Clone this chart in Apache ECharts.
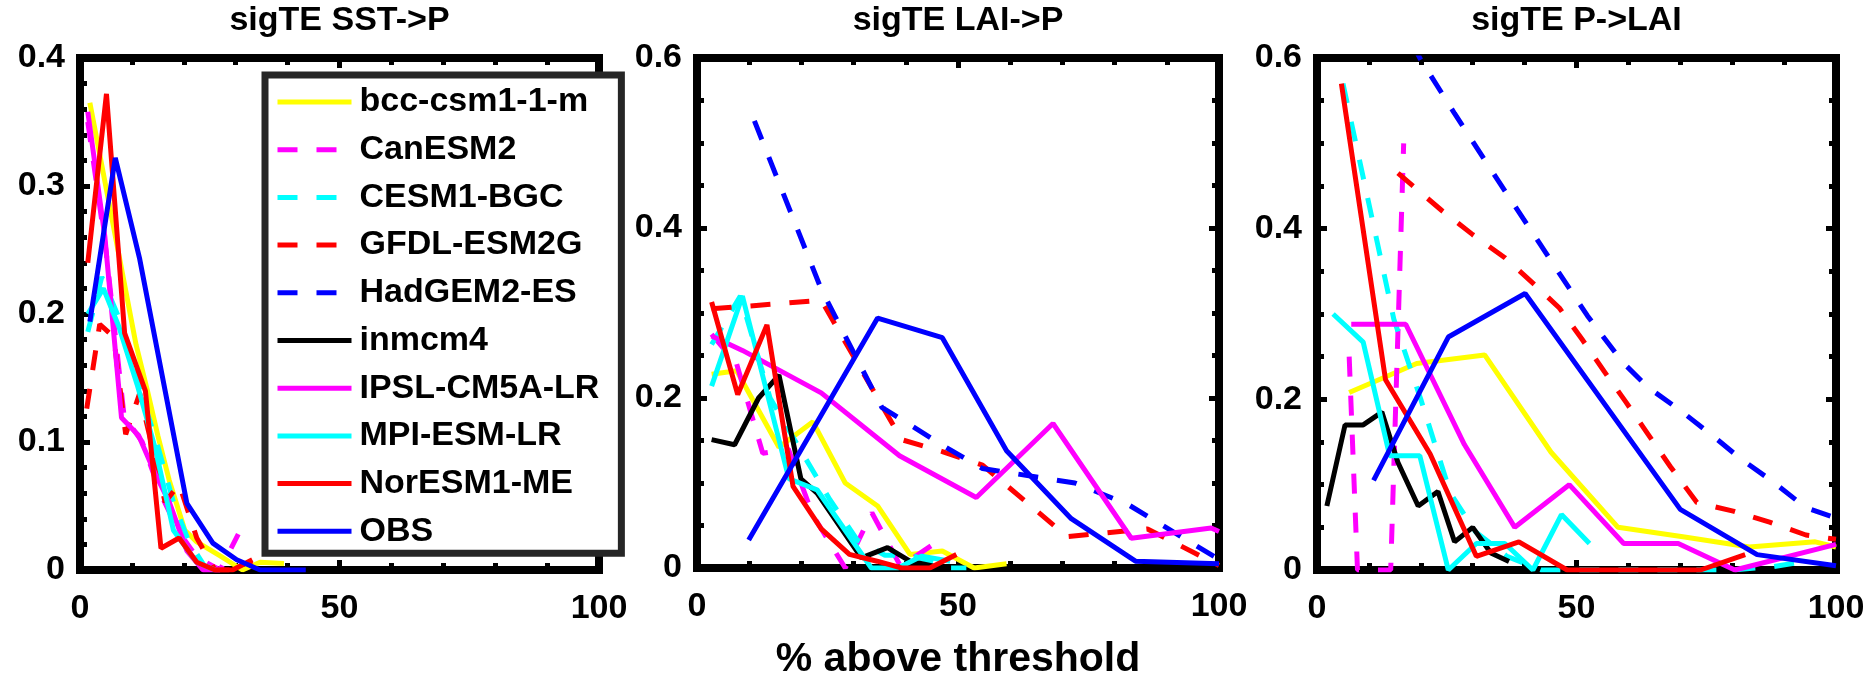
<!DOCTYPE html>
<html>
<head>
<meta charset="utf-8">
<script src="https://cdn.jsdelivr.net/npm/echarts@6/dist/echarts.min.js"></script>
<style>
html,body{margin:0;padding:0;background:#fff;}
#chart{width:1874px;height:685px;}
</style>
</head>
<body>
<div id="chart"></div>
<script>
// ---------- DATA ----------
const models = ['bcc-csm1-1-m','CanESM2','CESM1-BGC','GFDL-ESM2G','HadGEM2-ES','inmcm4','IPSL-CM5A-LR','MPI-ESM-LR','NorESM1-ME','OBS'];
const panelTitles = ['sigTE SST->P','sigTE LAI->P','sigTE P->LAI'];
const xAxisName = '% above threshold';
const xTicks = [0, 50, 100];
const yTicksSST = [0, 0.1, 0.2, 0.3, 0.4];
const yTicksLAI = [0, 0.2, 0.4, 0.6];

// Panel 1: sigTE SST->P  ([% above threshold, value])
const sstP_bcc  = [[1.9,0.365],[10.8,0.176],[13,0.14],[15,0.105],[17.2,0.07],[20.2,0.031],[22.5,0.022],[27,0.011],[31.3,0],[34.7,0.006],[39.3,0.005]];
const sstP_can  = [[1.5,0.35],[5,0.25],[8.5,0.12],[12,0.1],[15.5,0.06],[19,0.03],[22.5,0.01],[27,0],[30.5,0.028]];
const sstP_cesm = [[1.5,0.186],[4.2,0.229],[7.3,0.199],[11,0.148],[14.9,0.098],[18,0.053],[21,0.022],[24,0.003],[27,0]];
const sstP_gfdl = [[1.3,0.126],[3.8,0.192],[6.5,0.182],[8.8,0.106],[11.5,0.138],[16.4,0.053],[19.1,0.067],[22.5,0.025],[26,0],[29.5,0],[33.2,0.007]];
const sstP_had  = [];
const sstP_inm  = [];
const sstP_ipsl = [[1.5,0.358],[4.8,0.26],[8,0.119],[11.3,0.105],[14.5,0.075],[17.2,0.053],[20.6,0.015],[23.7,0],[27,0]];
const sstP_mpi  = [[1.5,0.2],[4.5,0.22],[7.5,0.19],[11,0.145],[14.5,0.095],[18,0.031],[22.5,0.006],[26,0]];
const sstP_nor  = [[1.5,0.24],[5.1,0.372],[8.6,0.185],[12.6,0.14],[15.6,0.017],[19.1,0.025],[22.5,0.006],[26,0],[29.4,0],[33.2,0.008]];
const sstP_obs  = [[1.9,0.194],[6.8,0.322],[11.5,0.243],[20.6,0.052],[25.6,0.021],[30.2,0.008],[34.7,0],[43.5,0]];

// Panel 2: sigTE LAI->P
const laiP_bcc  = [[2.8,0.228],[7.6,0.232],[15.7,0.142],[22.2,0.172],[28.4,0.1],[34.6,0.073],[40.8,0.016],[47,0.02],[53.1,0],[59.3,0.005]];
const laiP_can  = [[2.8,0.275],[7.6,0.24],[12.6,0.135],[17.5,0.14],[22.2,0.062],[28.4,0],[33.5,0.065],[39,0.002],[47,0.035]];
const laiP_cesm = [[2.8,0.263],[8.3,0.32],[14,0.2],[20.3,0.134],[25.5,0.08],[30.7,0.033],[36,0.015],[41,0.015],[48.5,0],[51.6,0]];
const laiP_gfdl = [[2.8,0.305],[7.5,0.307],[23.8,0.315],[39.2,0.151],[47,0.137],[54.7,0.121],[70.9,0.037],[86.3,0.046],[100,0.003]];
const laiP_had  = [[11,0.526],[23.8,0.328],[35.4,0.189],[47.7,0.142],[54.7,0.117],[72.4,0.1],[82.5,0.075],[100,0.01]];
const laiP_inm  = [[2.8,0.151],[7.2,0.145],[11.8,0.2],[15.7,0.227],[19.9,0.105],[23,0.088],[31.5,0.012],[36.5,0.024],[40.8,0.008],[47,0]];
const laiP_ipsl = [[2.8,0.273],[8.7,0.256],[23.8,0.206],[38.8,0.132],[53.5,0.083],[68.2,0.17],[83.2,0.035],[98.5,0.047],[100,0.043]];
const laiP_mpi  = [[2.8,0.214],[8.7,0.32],[17.6,0.105],[23,0.092],[33.4,0],[38.5,0],[43.1,0.014],[48.5,0.008]];
const laiP_nor  = [[2.8,0.313],[7.8,0.204],[13.4,0.286],[18.4,0.096],[23.8,0.046],[29.2,0.016],[34.5,0.008],[39.2,0],[44.6,0],[49.7,0.016]];
const laiP_obs  = [[9.9,0.033],[34.6,0.294],[47,0.271],[59.3,0.138],[71.7,0.058],[84,0.008],[100,0.005]];

// Panel 3: sigTE P->LAI
const pLai_bcc  = [[6.2,0.208],[19.2,0.242],[32.3,0.252],[45.1,0.138],[58,0.05],[70.5,0.039],[83.3,0.027],[96,0.033],[100,0.027]];
const pLai_can  = [[6.2,0.25],[7.8,0],[14.2,0],[16.7,0.5]];
const pLai_cesm = [[5,0.57],[14.8,0.294],[20,0.2],[25.7,0.09],[30.5,0.045],[36.6,0.016],[43.2,0],[80,0],[88,0.004],[92,0.008]];
const pLai_gfdl = [[15.6,0.465],[24.1,0.421],[30,0.393],[36.2,0.366],[42,0.334],[46.7,0.307],[51,0.271],[55.3,0.233],[59.5,0.197],[63.8,0.159],[68.1,0.121],[73.2,0.079],[80.2,0.069],[87.2,0.056],[94.2,0.041],[100,0.036]];
const pLai_had  = [[15,0.66],[19.8,0.6],[26.5,0.535],[33.1,0.473],[39.7,0.412],[45.9,0.355],[52.1,0.298],[58.8,0.244],[63.8,0.214],[70,0.187],[76.3,0.157],[81.7,0.13],[87.5,0.105],[94.2,0.073],[99.5,0.062]];
const pLai_inm  = [[1.9,0.075],[5.4,0.17],[8.9,0.17],[12.5,0.185],[15.6,0.126],[19.5,0.075],[23.3,0.092],[26.5,0.033],[30,0.05],[33.5,0.02],[37,0.01]];
const pLai_ipsl = [[6.6,0.288],[17.1,0.288],[28.4,0.147],[38.1,0.05],[48.6,0.1],[59.1,0.031],[69.6,0.031],[80.5,0],[100,0.03]];
const pLai_mpi  = [[3.1,0.3],[8.9,0.267],[14,0.134],[19.8,0.134],[25.3,0],[30.7,0.031],[36.2,0.031],[41.6,0],[47.1,0.065],[52.5,0.031]];
const pLai_nor  = [[4.7,0.57],[13.2,0.223],[21.8,0.136],[30.7,0.016],[38.9,0.033],[48.2,0],[73.9,0],[82.5,0.018]];
const pLai_obs  = [[10.9,0.105],[25.3,0.273],[40.1,0.324],[70,0.071],[84.8,0.018],[100,0.005]];

// ---------- STYLE ----------
const FONT = '"Liberation Sans", Arial, Helvetica, sans-serif';
const modelColors = ['#FFFF00','#FF00FF','#00FFFF','#FF0000','#0000FF','#000000','#FF00FF','#00FFFF','#FF0000','#0000FF'];
const modelDashed = [false,true,true,true,true,false,false,false,false,false];
const panelData = [
  [sstP_bcc,sstP_can,sstP_cesm,sstP_gfdl,sstP_had,sstP_inm,sstP_ipsl,sstP_mpi,sstP_nor,sstP_obs],
  [laiP_bcc,laiP_can,laiP_cesm,laiP_gfdl,laiP_had,laiP_inm,laiP_ipsl,laiP_mpi,laiP_nor,laiP_obs],
  [pLai_bcc,pLai_can,pLai_cesm,pLai_gfdl,pLai_had,pLai_inm,pLai_ipsl,pLai_mpi,pLai_nor,pLai_obs]
];
const panelYTicks = [yTicksSST, yTicksLAI, yTicksLAI];
const panelMinor = [5, 4, 4];
const grids = [
  {left: 80,  top: 58, width: 519, height: 512},
  {left: 697, top: 58, width: 522, height: 512},
  {left: 1317,top: 58, width: 519, height: 512}
];

const lineW = 8;
const tickStyle = {color:'#000', width:5};
function makeAxisCommon(){
  return {
    type:'value',
    axisLine:{show:true, onZero:false, lineStyle:{color:'#000', width:lineW, cap:'square'}},
    axisTick:{show:true, inside:true, length:10, lineStyle:tickStyle},
    splitLine:{show:false}
  };
}

const xAxes = [], yAxes = [], series = [], titles = [];
grids.forEach((g, p) => {
  const yt = panelYTicks[p];
  const yInt = yt[1] - yt[0];
  ['bottom','top'].forEach((pos, k) => {
    const ax = Object.assign(makeAxisCommon(), {
      gridIndex:p, position:pos, min:xTicks[0], max:xTicks[xTicks.length-1], interval:xTicks[1]-xTicks[0],
      minorTick:{show:true, splitNumber:5, length:7, lineStyle:tickStyle},
      axisLabel:{show:k===0, margin:22, fontSize:34, fontWeight:'bold', color:'#000', fontFamily:FONT}
    });
    if (p === 1 && k === 0) {
      ax.name = xAxisName; ax.nameLocation = 'middle'; ax.nameGap = 71;
      ax.nameTextStyle = {fontSize:41, fontWeight:'bold', color:'#000', fontFamily:FONT};
    }
    xAxes.push(ax);
  });
  ['left','right'].forEach((pos, k) => {
    yAxes.push(Object.assign(makeAxisCommon(), {
      gridIndex:p, position:pos, min:yt[0], max:yt[yt.length-1], interval:yInt,
      minorTick:{show:true, splitNumber:panelMinor[p], length:7, lineStyle:tickStyle},
      axisLabel:{show:k===0, margin:15, fontSize:34, fontWeight:'bold', color:'#000', fontFamily:FONT}
    }));
  });
  titles.push({
    text: panelTitles[p], left: g.left + g.width/2, top: 4, textAlign:'center', padding:0,
    textStyle:{fontSize:34, fontWeight:'bold', color:'#000', fontFamily:FONT}
  });
  models.forEach((m, i) => {
    series.push({
      type:'line', name:m, xAxisIndex:p*2, yAxisIndex:p*2,
      data: panelData[p][i], symbol:'none', showSymbol:false, silent:true,
      color: modelColors[i],
      lineStyle:{color:modelColors[i], width:5, type: modelDashed[i] ? [20,19] : 'solid'},
      animation:false
    });
  });
});

const chart = echarts.init(document.getElementById('chart'), null, {renderer:'canvas'});
chart.setOption({
  backgroundColor:'#fff',
  animation:false,
  textStyle:{fontFamily:FONT},
  title: titles,
  grid: grids,
  xAxis: xAxes,
  yAxis: yAxes,
  legend:{
    data: models, orient:'vertical', left:265, top:75,
    padding:[7,22,2,10], itemGap:7.7, itemWidth:74, itemHeight:1,
    backgroundColor:'#fff', borderColor:'#262626', borderWidth:7, borderRadius:0,
    selectedMode:false,
    itemStyle:{opacity:0, borderWidth:0},
    lineStyle:{width:5, opacity:1},
    textStyle:{fontSize:34, fontWeight:'bold', color:'#000', fontFamily:FONT, lineHeight:40, padding:[0,0,0,3]}
  },
  series: series
});
</script>
</body>
</html>
